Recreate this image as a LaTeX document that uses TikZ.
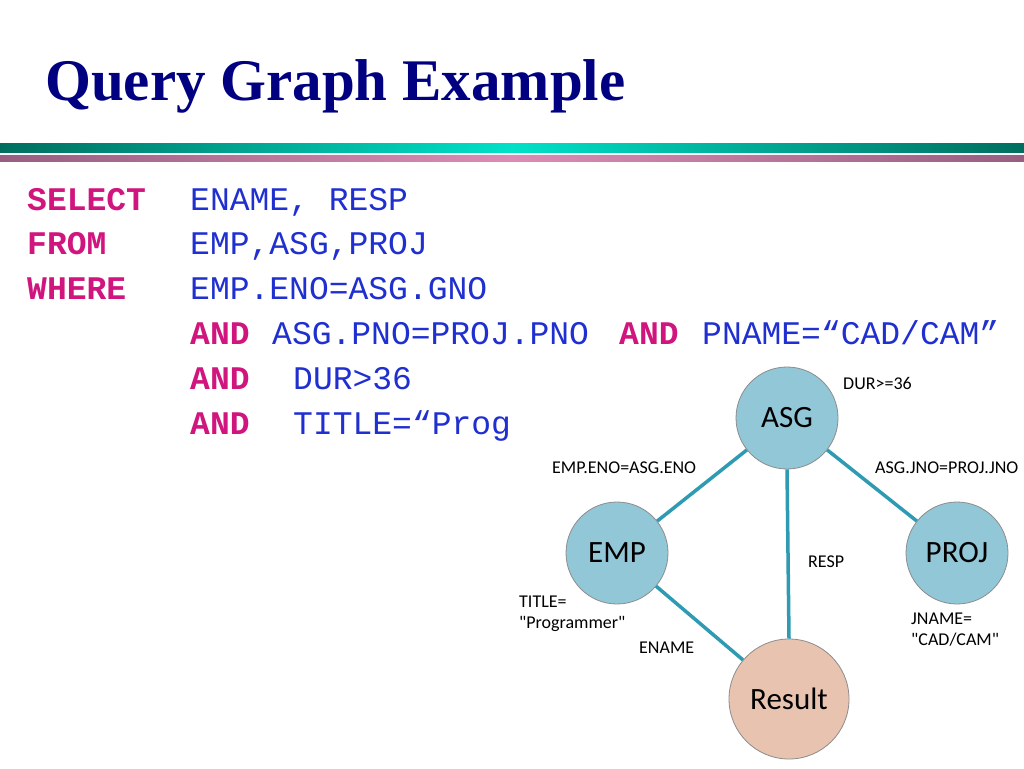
\documentclass[tikz,border=0pt]{standalone}
\usepackage{fontspec}
\setmainfont{Liberation Serif}
\newfontfamily\monof{Liberation Mono}
\newfontfamily\gf{Carlito}
\begin{document}
\begin{tikzpicture}[x=1pt,y=-1pt,
  tbl/.style={circle,minimum size=102pt,inner sep=0pt,draw=black!45,line width=0.8pt,fill=nodeblue,font=\gf\fontsize{31}{31}\selectfont},
  lbl/.style={font=\gf\fontsize{18}{21}\selectfont,inner sep=0pt,align=left},
  edge/.style={draw=edgeteal,line width=3.5pt},
  sql/.style={anchor=base west,inner sep=0pt,font=\monof\fontsize{33}{33}\selectfont,text=sqlblue},
  kw/.style={sql,text=kwpink,font=\monof\bfseries\fontsize{33}{33}\selectfont}]
\definecolor{nodeblue}{HTML}{92C7D8}
\definecolor{edgeteal}{HTML}{2E9BB2}
\definecolor{sqlblue}{HTML}{1F2FD0}
\definecolor{kwpink}{HTML}{D0157E}
\useasboundingbox (0,0) rectangle (1024,768);
\fill[white] (0,0) rectangle (1024,768);
\node[anchor=base west,inner sep=0pt,text={rgb,255:red,0;green,0;blue,128},font=\bfseries\fontsize{59}{59}\selectfont] (title) at (45,100) {Query Graph Example};
\shade[left color={rgb,255:red,0;green,110;blue,95},right color={rgb,255:red,0;green,110;blue,95},middle color={rgb,255:red,0;green,225;blue,200}] (0,143) rectangle (1024,152);
\shade[left color={rgb,255:red,150;green,95;blue,130},right color={rgb,255:red,150;green,95;blue,130},middle color={rgb,255:red,220;green,140;blue,180}] (0,155) rectangle (1024,161);
\node[kw] (k1) at (27,210) {SELECT};
\node[kw] (k2) at (27,254) {FROM};
\node[kw] (k3) at (27,299) {WHERE};
\node[sql] (s1) at (190,210) {ENAME, RESP};
\node[sql] (s2) at (190,254) {EMP,ASG,PROJ};
\node[sql] (s3) at (190,299) {EMP.ENO=ASG.GNO};
\node[kw] (a1) at (190,344) {AND};
\node[sql] (s4) at (272,344) {ASG.PNO=PROJ.PNO};
\node[kw] (a2) at (619,344) {AND};
\node[sql] (s5) at (702,344) {PNAME=“CAD/CAM”};
\node[kw] (a3) at (190,389) {AND};
\node[sql] (s6) at (293,389) {DUR>36};
\node[kw] (a4) at (190,434) {AND};
\node[sql] (s7) at (293,434) {TITLE=“Prog};
\node[tbl] (asg) at (787,418) {ASG};
\node[tbl] (emp) at (617,553) {EMP};
\node[tbl] (proj) at (957,553) {PROJ};
\node[tbl,fill={rgb,255:red,232;green,196;blue,176},minimum size=120pt] (res) at (789,699) {Result};
\draw[edge] (asg) -- (emp);
\draw[edge] (asg) -- (proj);
\draw[edge] (emp) -- (res);
\draw[edge] (asg.south) -- (res.north);
\node[lbl,anchor=west] (l1) at (843,383) {DUR>=36};
\node[lbl,anchor=west] (l2) at (552,468) {EMP.ENO=ASG.ENO};
\node[lbl,anchor=west] (l3) at (875,468) {ASG.JNO=PROJ.JNO};
\node[lbl,anchor=west] (l4) at (808,562) {RESP};
\node[lbl,anchor=west] (l5) at (519,614) {TITLE=\\"Programmer"};
\node[lbl,anchor=west] (l6) at (639,648) {ENAME};
\node[lbl,anchor=west] (l7) at (911,630) {JNAME=\\"CAD/CAM"};
\end{tikzpicture}
\end{document}
